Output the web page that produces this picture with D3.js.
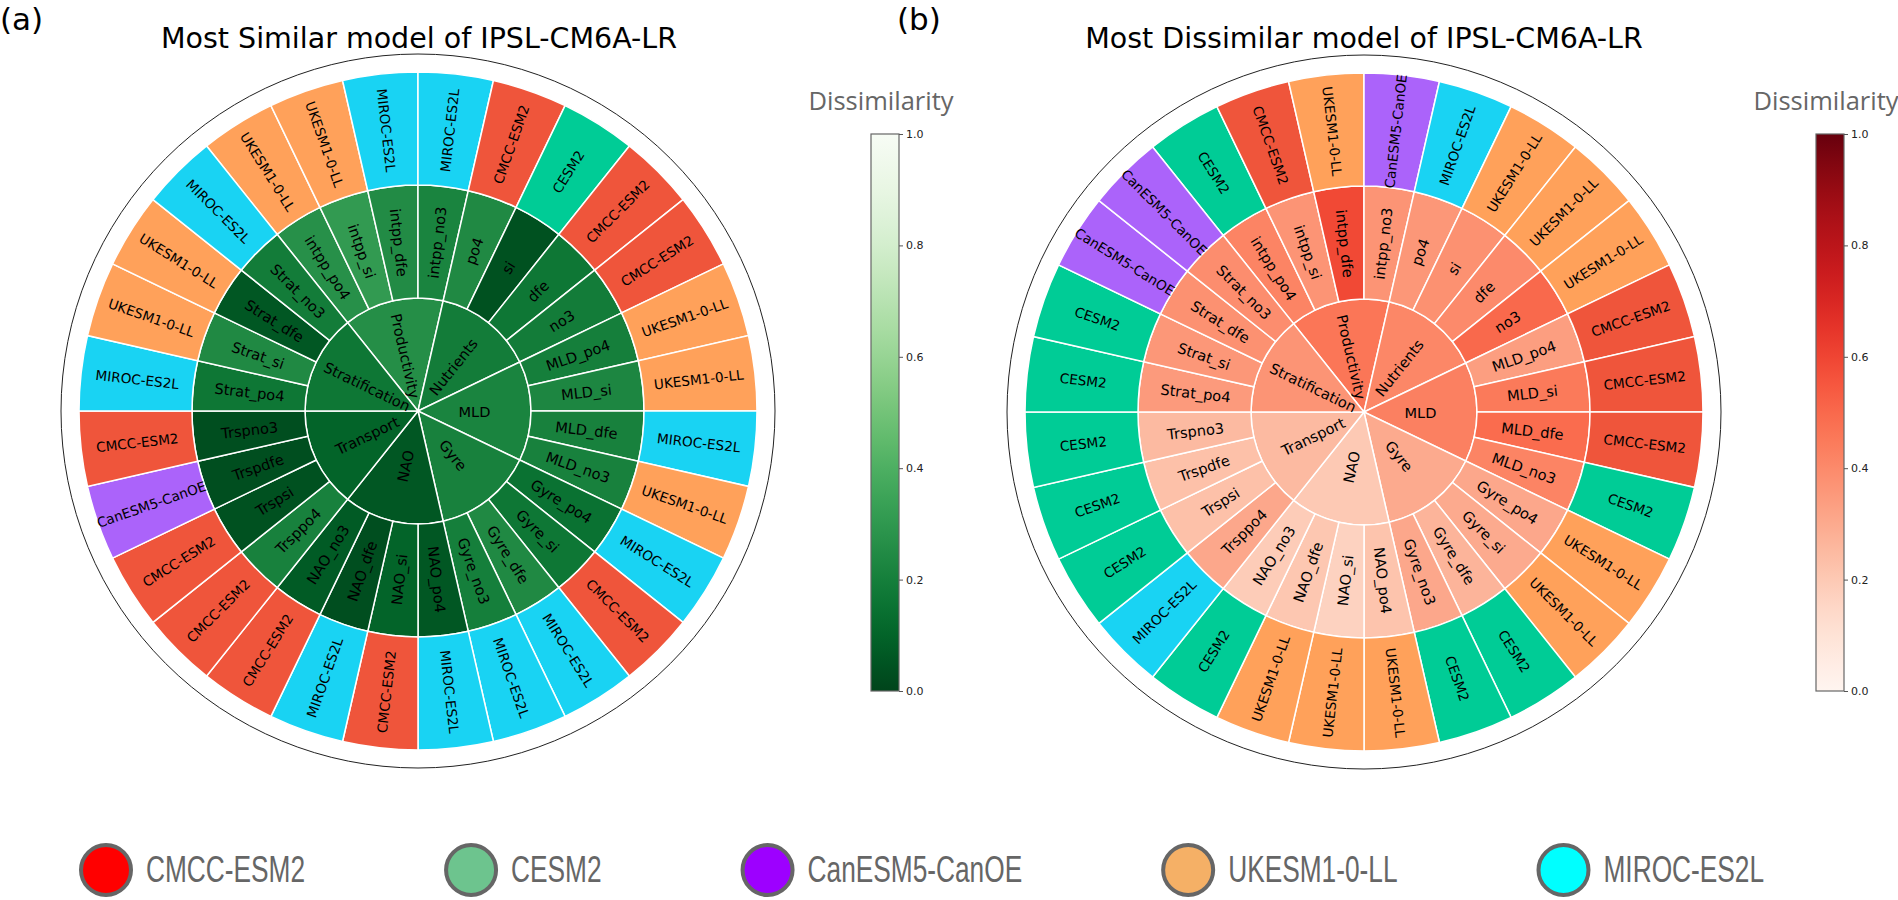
<!DOCTYPE html>
<html lang="en">
<head>
<meta charset="UTF-8" />
<title>Most Similar / Dissimilar model of IPSL-CM6A-LR</title>
<script src="https://d3js.org/d3.v7.min.js"></script>
<style>
  body { margin: 0; background: #fff; }
  svg { display: block; font-family: "DejaVu Sans", sans-serif; }
  .seg { stroke: #fff; stroke-width: 1.5; }
  .seg-label { font-size: 14.6px; fill: #000; }
  .seg-label.model { font-size: 13.6px; }
  .cbar-title { font-family: "Open Sans", sans-serif; font-size: 25.5px; fill: #666; }
  .cbar .tick text { font-family: "DejaVu Sans", sans-serif; font-size: 11px; fill: #222; }
  .cbar .tick line { stroke: #555; }
  .legend-label { font-family: "Liberation Sans", sans-serif; font-size: 36px; fill: #666; }
</style>
</head>
<body>
<svg width="1898" height="900"></svg>
<script>
// inner ring
const categories = ["Productivity", "Nutrients", "MLD", "Gyre", "NAO", "Transport", "Stratification"];

// middle ring, 4 per category in the same order
const variables = [
  "intpp_po4", "intpp_si", "intpp_dfe", "intpp_no3",
  "po4", "si", "dfe", "no3",
  "MLD_po4", "MLD_si", "MLD_dfe", "MLD_no3",
  "Gyre_po4", "Gyre_si", "Gyre_dfe", "Gyre_no3",
  "NAO_po4", "NAO_si", "NAO_dfe", "NAO_no3",
  "Trsppo4", "Trspsi", "Trspdfe", "Trspno3",
  "Strat_po4", "Strat_si", "Strat_dfe", "Strat_no3"
];

const modelNames = ["CMCC-ESM2", "CESM2", "CanESM5-CanOE", "UKESM1-0-LL", "MIROC-ES2L"];

// (a) most similar model
const similarCatValues = [0.26, 0.19, 0.22, 0.21, 0.06, 0.10, 0.17];
const similarVarValues = [
  0.27, 0.31, 0.25, 0.22,
  0.24, 0.04, 0.17, 0.19,
  0.20, 0.23, 0.21, 0.21,
  0.15, 0.17, 0.24, 0.20,
  0.06, 0.10, 0.03, 0.07,
  0.21, 0.04, 0.03, 0.03,
  0.17, 0.24, 0.06, 0.19
];
const similarModels = [
  "UKESM1-0-LL", "UKESM1-0-LL", "MIROC-ES2L", "MIROC-ES2L",
  "CMCC-ESM2", "CESM2", "CMCC-ESM2", "CMCC-ESM2",
  "UKESM1-0-LL", "UKESM1-0-LL", "MIROC-ES2L", "UKESM1-0-LL",
  "MIROC-ES2L", "CMCC-ESM2", "MIROC-ES2L", "MIROC-ES2L",
  "MIROC-ES2L", "CMCC-ESM2", "MIROC-ES2L", "CMCC-ESM2",
  "CMCC-ESM2", "CMCC-ESM2", "CanESM5-CanOE", "CMCC-ESM2",
  "MIROC-ES2L", "UKESM1-0-LL", "UKESM1-0-LL", "MIROC-ES2L"
];

// (b) most dissimilar model
const dissimilarCatValues = [0.46, 0.41, 0.43, 0.30, 0.20, 0.25, 0.37];
const dissimilarVarValues = [
  0.42, 0.37, 0.59, 0.37,
  0.36, 0.38, 0.40, 0.50,
  0.34, 0.45, 0.49, 0.42,
  0.31, 0.30, 0.27, 0.31,
  0.22, 0.17, 0.21, 0.19,
  0.31, 0.23, 0.23, 0.25,
  0.35, 0.36, 0.38, 0.39
];
const dissimilarModels = [
  "CESM2", "CMCC-ESM2", "UKESM1-0-LL", "CanESM5-CanOE",
  "MIROC-ES2L", "UKESM1-0-LL", "UKESM1-0-LL", "UKESM1-0-LL",
  "CMCC-ESM2", "CMCC-ESM2", "CMCC-ESM2", "CESM2",
  "UKESM1-0-LL", "UKESM1-0-LL", "CESM2", "CESM2",
  "UKESM1-0-LL", "UKESM1-0-LL", "UKESM1-0-LL", "CESM2",
  "MIROC-ES2L", "CESM2", "CESM2", "CESM2",
  "CESM2", "CESM2", "CanESM5-CanOE", "CanESM5-CanOE"
];

const colorbarTicks = [0, 0.2, 0.4, 0.6, 0.8, 1.0];

// colours
const ringColor = d3.scaleOrdinal()
  .domain(modelNames)
  .range(["#ef553b", "#00cc96", "#ab63fa", "#ffa15a", "#19d3f3"]);
const legendColor = d3.scaleOrdinal()
  .domain(modelNames)
  .range(["#ff0000", "#6dc48e", "#9d00ff", "#f5b066", "#00ffff"]);
const greens = t => d3.interpolateGreens(1 - t);
const reds = t => d3.interpolateReds(t);

const svg = d3.select("svg");
const outerR = 339;
const frameR = 357;
const offset = -3 * 2 * Math.PI / variables.length;   // productivity starts left of 12 o'clock

function buildTree(catVals, varVals, models) {
  return {
    name: "root",
    children: categories.map((c, ci) => ({
      name: c, diss: catVals[ci],
      children: variables.slice(ci * 4, ci * 4 + 4).map((v, k) => ({
        name: v, diss: varVals[ci * 4 + k],
        children: [{ name: models[ci * 4 + k], leaf: true }]
      }))
    }))
  };
}

function drawSunburst(cx, cy, catVals, varVals, models, interp) {
  const root = d3.hierarchy(buildTree(catVals, varVals, models))
    .sum(d => d.leaf ? 1 : 0);
  d3.partition().size([2 * Math.PI, 4])(root);

  const r = d3.scaleLinear().domain([1, 4]).range([0, outerR]);
  const color = d3.scaleSequential(interp).domain([0, 1]);

  const arc = d3.arc()
    .startAngle(d => d.x0 + offset)
    .endAngle(d => d.x1 + offset)
    .innerRadius(d => r(d.y0))
    .outerRadius(d => r(d.y1));

  const g = svg.append("g").attr("transform", `translate(${cx},${cy})`);

  g.append("circle")
    .attr("r", frameR)
    .attr("fill", "none")
    .attr("stroke", "#222")
    .attr("stroke-width", 1);

  const nodes = root.descendants().filter(d => d.depth > 0);

  g.selectAll("path.seg")
    .data(nodes)
    .join("path")
    .attr("class", "seg")
    .attr("d", arc)
    .attr("fill", d => d.depth === 3 ? ringColor(d.data.name) : color(d.data.diss));

  g.selectAll("text.seg-label")
    .data(nodes)
    .join("text")
    .attr("class", d => d.depth === 3 ? "seg-label model" : "seg-label")
    .attr("text-anchor", "middle")
    .attr("dominant-baseline", "central")
    .attr("transform", d => {
      const a = (d.x0 + d.x1) / 2 + offset;
      const rr = r((d.y0 + d.y1) / 2);
      let deg = ((a * 180 / Math.PI) % 360 + 360) % 360;
      const rot = deg < 180 ? deg - 90 : deg + 90;
      return `translate(${rr * Math.sin(a)},${-rr * Math.cos(a)}) rotate(${rot})`;
    })
    .text(d => d.data.name);
}

function drawColorbar(x, top, bottom, interp, id) {
  const w = 28;
  const grad = svg.append("defs").append("linearGradient")
    .attr("id", id)
    .attr("x1", 0).attr("y1", 1).attr("x2", 0).attr("y2", 0);
  d3.range(0, 1.0001, 0.05).forEach(t => {
    grad.append("stop").attr("offset", t).attr("stop-color", interp(t));
  });

  svg.append("text")
    .attr("class", "cbar-title")
    .attr("x", x + w / 2 - 4)
    .attr("y", 110)
    .attr("text-anchor", "middle")
    .text("Dissimilarity");

  svg.append("rect")
    .attr("x", x).attr("y", top)
    .attr("width", w).attr("height", bottom - top)
    .attr("fill", `url(#${id})`)
    .attr("stroke", "#666")
    .attr("stroke-width", 1.2);

  const y = d3.scaleLinear().domain([0, 1]).range([bottom, top]);
  svg.append("g")
    .attr("class", "cbar")
    .attr("transform", `translate(${x + w},0)`)
    .call(d3.axisRight(y).tickValues(colorbarTicks).tickFormat(d3.format(".1f")).tickSize(4).tickPadding(3))
    .call(g => g.select(".domain").remove());
}

// titles
svg.append("text").attr("x", 0).attr("y", 30).attr("font-size", 31).text("(a)");
svg.append("text").attr("x", 897).attr("y", 30).attr("font-size", 31).text("(b)");
svg.append("text").attr("x", 419).attr("y", 48).attr("font-size", 28.5)
  .attr("text-anchor", "middle").text("Most Similar model of IPSL-CM6A-LR");
svg.append("text").attr("x", 1364).attr("y", 48).attr("font-size", 28.5)
  .attr("text-anchor", "middle").text("Most Dissimilar model of IPSL-CM6A-LR");

drawSunburst(418, 411, similarCatValues, similarVarValues, similarModels, greens);
drawSunburst(1364, 412, dissimilarCatValues, dissimilarVarValues, dissimilarModels, reds);

drawColorbar(871, 134, 691, greens, "gradGreens");
drawColorbar(1816, 134, 691, reds, "gradReds");

// legend
const legend = svg.append("g").attr("class", "legend");
const squeeze = 0.73;
let lx = 79;
modelNames.forEach(m => {
  const cx = lx + 27;
  legend.append("circle")
    .attr("cx", cx).attr("cy", 870).attr("r", 25)
    .attr("fill", legendColor(m))
    .attr("stroke", "#666").attr("stroke-width", 4);
  const t = legend.append("text")
    .attr("class", "legend-label")
    .attr("transform", `translate(${cx + 40},882) scale(${squeeze},1)`)
    .text(m);
  const tw = t.node().getComputedTextLength() * squeeze;
  lx = cx + 40 + tw + 139;
});
</script>
</body>
</html>
